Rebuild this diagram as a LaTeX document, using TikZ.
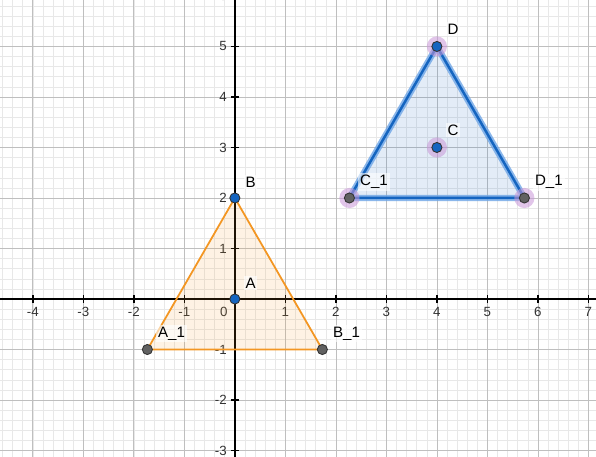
\documentclass[tikz,border=0pt]{standalone}
\usepackage{fontspec}
\setmainfont{Liberation Sans}
\usetikzlibrary{positioning}
\definecolor{ggborange}{RGB}{243,150,35}
\definecolor{ggbblue}{RGB}{21,101,192}
\definecolor{ggbhalo}{RGB}{110,165,230}
\definecolor{ggbpurple}{RGB}{200,150,215}
\definecolor{ggbgray}{RGB}{97,97,97}
\tikzset{
  ptnode/.style={circle, draw=black!80, line width=0.5pt, inner sep=0pt, minimum size=0.2cm},
}

\begin{document}
\begin{tikzpicture}[
    every node/.style={font=\fontsize{7.5}{9}\selectfont},
    minorgrid/.style={draw=black!9, line width=0.3pt},
    majorgrid/.style={draw=black!25, line width=0.4pt},
    axisline/.style={draw=black, line width=0.8pt},
    ticklabel/.style={inner sep=1pt, text=black!80},
    ptlabel/.style={anchor=south west, inner sep=1pt, font=\fontsize{8.5}{10}\selectfont,
      fill=white, fill opacity=0.6, text opacity=1},
    bluept/.style={ptnode, fill=ggbblue},
    graypt/.style={ptnode, fill=ggbgray},
    selhalo/.style={fill=ggbpurple, fill opacity=0.55},
  ]
  \useasboundingbox (-4.65,-3.125) rectangle (7.15,5.92);

  % Grid
  \draw[minorgrid] (-4.65,-3.125) grid[step=0.2] (7.15,5.92);
  \draw[majorgrid] (-4.65,-3.125) grid[step=1] (7.15,5.92);

  % Axes with ticks
  \draw[axisline] (-4.65,0) -- (7.15,0);
  \draw[axisline] (0,-3.125) -- (0,5.92);
  \foreach \x in {-4,-3,-2,-1,1,2,3,4,5,6,7} {
    \draw[axisline] (\x,-0.08) -- (\x,0.08);
    \node[ticklabel] (xt\x) at (\x,-0.26) {\x};
  }
  \foreach \y in {-3,-2,-1,1,2,3,4,5,6} {
    \draw[axisline] (-0.08,\y) -- (0.08,\y);
    \node[ticklabel, anchor=east] (yt\y) at (-0.12,\y) {\y};
  }
  \node[ticklabel] (zero) at (-0.22,-0.26) {0};

  % Vertices
  \coordinate (A) at (0,0);
  \coordinate (B) at (0,2);
  \coordinate (A_1) at (-1.7321,-1);
  \coordinate (B_1) at (1.7321,-1);
  \coordinate (C) at (4,3);
  \coordinate (D) at (4,5);
  \coordinate (C_1) at (2.2679,2);
  \coordinate (D_1) at (5.7321,2);

  % Orange triangle
  \fill[ggborange, fill opacity=0.12] (A_1) -- (B_1) -- (B) -- cycle;
  \draw[ggborange, line width=1pt, line join=round] (A_1) -- (B_1) -- (B) -- cycle;

  % Blue triangle (selected)
  \fill[ggbblue, fill opacity=0.12] (C_1) -- (D_1) -- (D) -- cycle;
  \draw[ggbhalo, line width=3.6pt, line join=round, opacity=0.8] (C_1) -- (D_1) -- (D) -- cycle;
  \draw[ggbblue, line width=1.4pt, line join=round] (C_1) -- (D_1) -- (D) -- cycle;

  % Selection halos
  \foreach \p in {C,D,C_1,D_1}
    \fill[selhalo] (\p) circle (0.2);

  % Points
  \node[bluept] (pA) at (A) {};
  \node[bluept] (pB) at (B) {};
  \node[bluept] (pC) at (C) {};
  \node[bluept] (pD) at (D) {};
  \node[graypt] (pA_1) at (A_1) {};
  \node[graypt] (pB_1) at (B_1) {};
  \node[graypt] (pC_1) at (C_1) {};
  \node[graypt] (pD_1) at (D_1) {};

  % Labels
  \node[ptlabel, above right=0.17 and 0.17 of A] (lA) {A};
  \node[ptlabel, above right=0.17 and 0.17 of B] (lB) {B};
  \node[ptlabel, above right=0.2 and 0.17 of C] (lC) {C};
  \node[ptlabel, above right=0.2 and 0.17 of D] (lD) {D};
  \node[ptlabel, above right=0.14 and 0.17 of A_1] (lA_1) {A\_1};
  \node[ptlabel, above right=0.14 and 0.17 of B_1] (lB_1) {B\_1};
  \node[ptlabel, above right=0.14 and 0.17 of C_1] (lC_1) {C\_1};
  \node[ptlabel, above right=0.14 and 0.17 of D_1] (lD_1) {D\_1};
\end{tikzpicture}
\end{document}
